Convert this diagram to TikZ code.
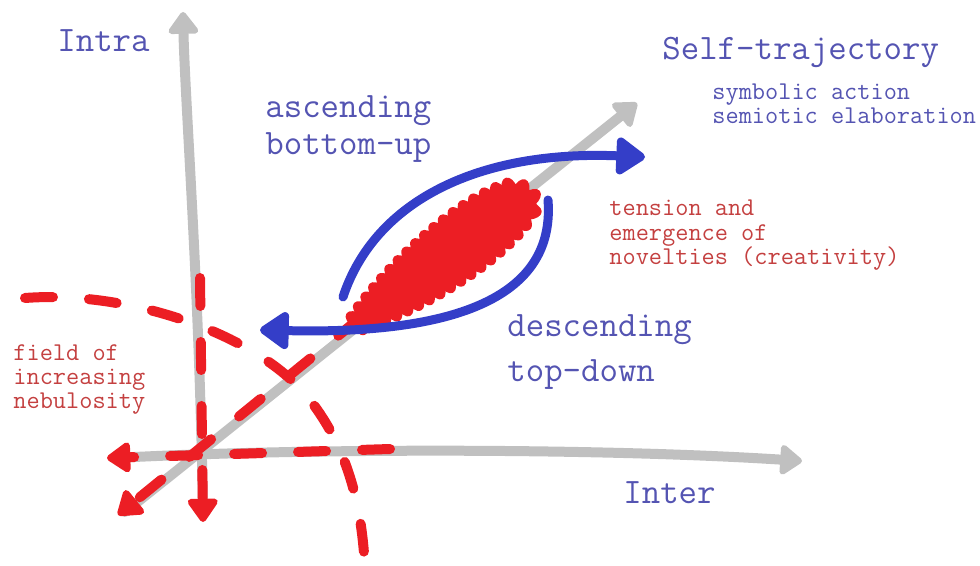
\documentclass[tikz,border=0pt]{standalone}
\usepackage{fontspec}
\usepackage{tikz}
\usetikzlibrary{arrows.meta,decorations.pathmorphing}

\definecolor{axisgray}{RGB}{192,192,192}
\definecolor{arrowblue}{RGB}{52,62,200}
\definecolor{fieldred}{RGB}{236,30,36}
\definecolor{textblue}{RGB}{84,84,178}
\definecolor{textred}{RGB}{196,64,64}

\begin{document}
\begin{tikzpicture}[x=0.5pt,y=-0.5pt,
  axis/.style={line width=5pt,color=axisgray,line cap=round,-{Triangle[round,length=12pt,width=17pt]}},
  fieldline/.style={line width=5pt,color=fieldred,line cap=round,dash pattern=on 14pt off 18pt,-{Triangle[round,length=13pt,width=17pt]}},
  bluearrow/.style={line width=4.5pt,color=arrowblue,line cap=round,-{Triangle[round,length=16pt,width=21pt]}},
  bigtext/.style={inner sep=0pt,anchor=base west,align=left,text=textblue,font=\ttfamily\fontsize{17.9}{18.5}\selectfont},
  smalltext/.style={inner sep=0pt,anchor=base west,align=left,font=\ttfamily\fontsize{12.8}{12.25}\selectfont}]

\useasboundingbox (0,0) rectangle (980,566);

% axes
\coordinate (intraTop) at (183,12);
\coordinate (intraBot) at (203,515);
\coordinate (interLeft) at (115,458);
\coordinate (interRight) at (802,461);
\coordinate (selfBot) at (125,512);
\coordinate (selfTop) at (637,103);

\draw[axis] (intraBot) .. controls (200,300) and (185,100) .. (intraTop);
\draw[axis] (interLeft) .. controls (300,448) and (600,448) .. (interRight);
\draw[axis] (selfBot) -- (selfTop);

% red dashed field lines
\coordinate (hStart) at (390,449);
\coordinate (hTip) at (107,458);
\coordinate (vStart) at (200,278);
\coordinate (vTip) at (203,522);
\coordinate (dStart) at (360,318);
\coordinate (dTip) at (118,515);
\coordinate (cStart) at (25,298);
\coordinate (cEnd) at (365,570);

\draw[fieldline] (hStart) -- (hTip);
\draw[fieldline] (vStart) -- (vTip);
\draw[fieldline] (dStart) -- (dTip);
\draw[fieldline,-] (cStart) .. controls (130,290) and (260,335) .. (310,400) .. controls (345,445) and (362,500) .. (cEnd);

% tension blob
\begin{scope}[shift={(447,255)},rotate=37]
\fill[fieldred,draw=fieldred,line width=1.5pt,line join=round,decorate,decoration={bumps,segment length=12pt,amplitude=5.5pt}]
  (-117,0) .. controls (-60,-20) and (40,-34) .. (93,-13) .. controls (102,0) .. (93,13) .. controls (40,34) and (-60,20) .. (-117,0) -- cycle;
\end{scope}

% ascending and descending
\coordinate (ascStart) at (343,297);
\coordinate (ascEnd) at (645,157);
\coordinate (descStart) at (548,200);
\coordinate (descEnd) at (260,330);

\draw[bluearrow] (ascStart) .. controls (375,200) and (480,150) .. (ascEnd);
\draw[bluearrow] (descStart) .. controls (555,290) and (470,335) .. (descEnd);

% labels
\node[bigtext] (intra) at (57,52) {Intra};
\node[bigtext] (inter) at (623,503) {Inter};
\node[bigtext] (selftraj) at (662,60) {Self-trajectory};
\node[smalltext,text=textblue] (symbolic) at (712,124) {symbolic action\\semiotic elaboration};
\node[bigtext] (ascend) at (265,155) {ascending\\bottom-up};
\node[bigtext,font=\ttfamily\fontsize{17.9}{22.5}\selectfont] (descend) at (507,382) {descending\\top-down};
\node[smalltext,text=textred] (tension) at (609,265) {tension and\\emergence of\\novelties (creativity)};
\node[smalltext,text=textred] (field) at (13,409) {field of\\increasing\\nebulosity};

\end{tikzpicture}
\end{document}
